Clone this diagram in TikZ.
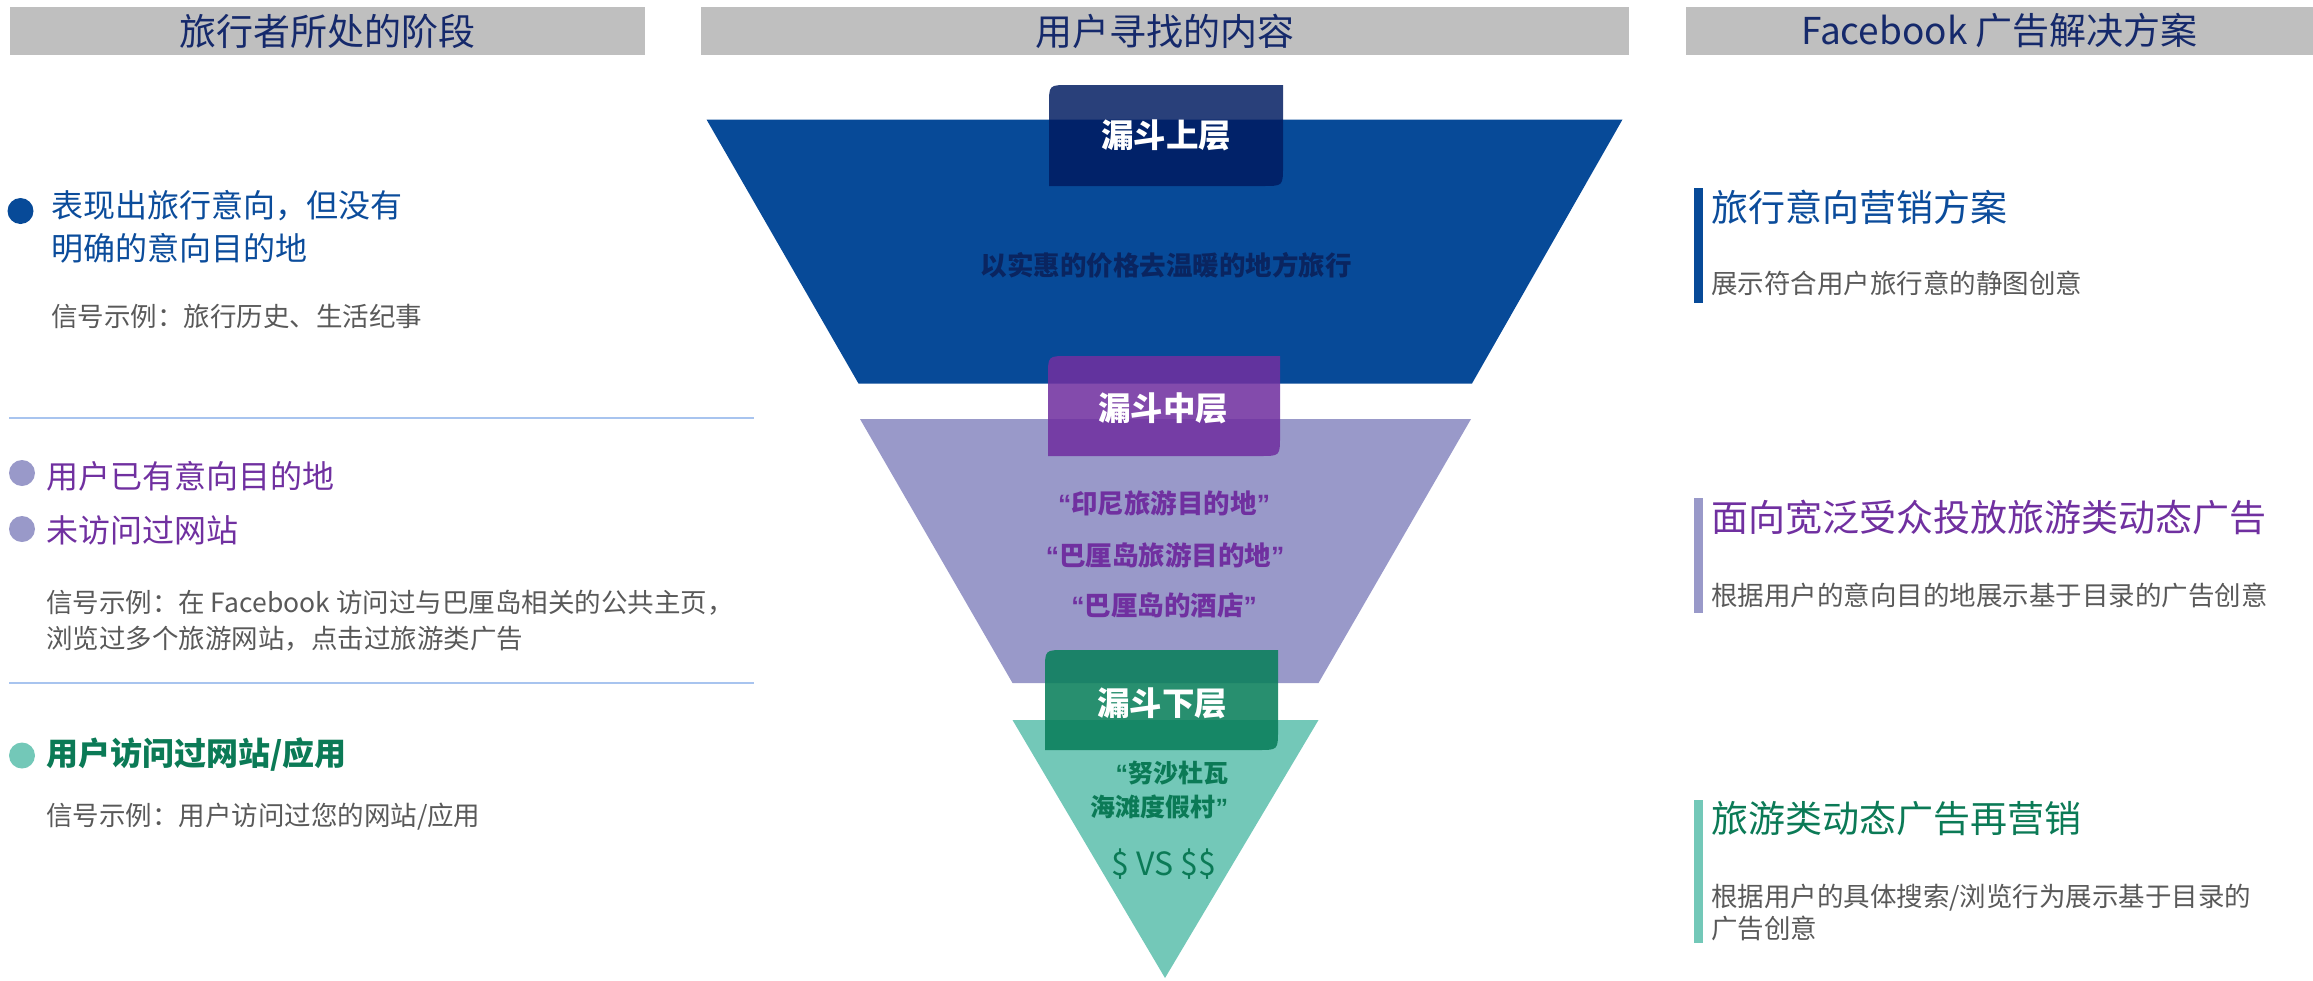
\documentclass[tikz,border=0pt]{standalone}
\usepackage{fontspec}
\setmainfont{Noto Sans CJK SC}
\newfontfamily\qfont{Liberation Sans}
\definecolor{hdrgray}{HTML}{BFBFBF}
\definecolor{hdrnavy}{HTML}{15296B}
\definecolor{fblue}{HTML}{074A98}
\definecolor{tblue}{HTML}{0B4C9B}
\definecolor{navybox}{HTML}{001B60}
\definecolor{navytext}{HTML}{0A2560}
\definecolor{lav}{HTML}{9999C9}
\definecolor{purp}{HTML}{7030A0}
\definecolor{tealf}{HTML}{73C8B8}
\definecolor{grn}{HTML}{0B7A56}
\definecolor{greenbox}{HTML}{0A7F5B}
\definecolor{gtext}{HTML}{595959}
\definecolor{sepc}{HTML}{A8C4EF}
\newcommand\myfs[2]{\fontsize{#1}{#2}\selectfont}
\newcommand\myoq{{\qfont\bfseries “}}
\newcommand\mycq{{\qfont\bfseries ”}}
\begin{document}
\begin{tikzpicture}[x=1pt,y=-1pt,
  every node/.style={inner sep=0pt, outer sep=0pt},
  hdr/.style={fill=hdrgray, text=hdrnavy, font=\myfs{37}{40}, minimum height=48pt, anchor=north west},
  flabel/.style={text=white, font=\myfs{32.5}{36}\bfseries},
  bul/.style={circle, minimum size=26pt},
  big/.style={anchor=west, align=left, font=\myfs{32}{43}},
  small/.style={anchor=west, align=left, text=gtext, font=\myfs{26.5}{36}},
  rtitle/.style={anchor=west, font=\myfs{37}{40}},
  sepline/.style={draw=sepc, line width=2pt}
]
\useasboundingbox (0,0) rectangle (2313,980);

% headers
\node[hdr, minimum width=635pt] (h1) at (10,7) {旅行者所处的阶段};
\node[hdr, minimum width=928pt] (h2) at (701,7) {用户寻找的内容};
\node[hdr, minimum width=627pt] (h3) at (1686,7) {Facebook 广告解决方案};

% funnel
\fill[fblue] (706.5,119.5) -- (1622.5,119.5) -- (1472,383.5) -- (858.5,383.5) -- cycle;
\fill[lav] (860,419) -- (1471,419) -- (1318.5,683) -- (1012.5,683) -- cycle;
\fill[tealf] (1012.5,720) -- (1318.5,720) -- (1165,978) -- cycle;

% label boxes
\fill[navybox, fill opacity=0.84] (1049,186) -- (1049,105) .. controls (1049,85) .. (1069,85) -- (1283,85) -- (1283,166) .. controls (1283,186) .. (1263,186) -- cycle;
\fill[purp, fill opacity=0.87] (1048,456) -- (1048,376) .. controls (1048,356) .. (1068,356) -- (1280,356) -- (1280,436) .. controls (1280,456) .. (1260,456) -- cycle;
\fill[greenbox, fill opacity=0.88] (1045,750) -- (1045,670) .. controls (1045,650) .. (1065,650) -- (1278,650) -- (1278,730) .. controls (1278,750) .. (1258,750) -- cycle;

\node[flabel] (l1) at (1166,135.5) {漏斗上层};
\node[flabel] (l2) at (1163,408) {漏斗中层};
\node[flabel] (l3) at (1162,703) {漏斗下层};

\node[text=navytext, font=\myfs{26.5}{30}\bfseries] (t1) at (1166,265.5) {以实惠的价格去温暖的地方旅行};
\node[text=purp, font=\myfs{26.5}{30}\bfseries] (q1) at (1164,503) {\myoq 印尼旅游目的地\mycq};
\node[text=purp, font=\myfs{26.5}{30}\bfseries] (q2) at (1165,555) {\myoq 巴厘岛旅游目的地\mycq};
\node[text=purp, font=\myfs{26.5}{30}\bfseries] (q3) at (1164,605) {\myoq 巴厘岛的酒店\mycq};
\node[text=grn, font=\myfs{25}{34}\bfseries, anchor=east, align=right] (g1) at (1228,790) {\myoq 努沙杜瓦\\海滩度假村\mycq};
\node[text=grn, font=\myfs{32}{36}] (g2) at (1164,864) {\$ VS \$\$};

% left column
\node[bul, fill=fblue] (b1) at (20.5,211) {};
\node[big, text=tblue] (s1) at (51,226.5) {表现出旅行意向，但没有\\明确的意向目的地};
\node[small] (e1) at (51,316) {信号示例：旅行历史、生活纪事};
\coordinate (sa1) at (9,418);
\coordinate (sa2) at (754,418);
\draw[sepline] (sa1) -- (sa2);

\node[bul, fill=lav] (b2) at (22,473) {};
\node[big, text=purp] (s2) at (46,476) {用户已有意向目的地};
\node[bul, fill=lav] (b3) at (22,529) {};
\node[big, text=purp] (s3) at (46,530) {未访问过网站};
\node[small] (e2) at (46,621) {信号示例：在 Facebook 访问过与巴厘岛相关的公共主页，\\浏览过多个旅游网站，点击过旅游类广告};
\coordinate (sb1) at (9,683);
\coordinate (sb2) at (754,683);
\draw[sepline] (sb1) -- (sb2);

\node[bul, fill=tealf] (b4) at (22,755.5) {};
\node[big, text=grn, font=\myfs{32}{43}\bfseries] (s4) at (46,755) {用户访问过网站/应用};
\node[small] (e3) at (46,817) {信号示例：用户访问过您的网站/应用};

% right column
\fill[fblue] (1694,188) rectangle (1702.5,303);
\node[rtitle, text=tblue] (r1) at (1711,207) {旅行意向营销方案};
\node[small] (d1) at (1711,283) {展示符合用户旅行意的静图创意};

\fill[lav] (1694,498) rectangle (1702.5,613);
\node[rtitle, text=purp] (r2) at (1711,518) {面向宽泛受众投放旅游类动态广告};
\node[small] (d2) at (1711,595) {根据用户的意向目的地展示基于目录的广告创意};

\fill[tealf] (1694,800) rectangle (1702.5,943);
\node[rtitle, text=grn] (r3) at (1711,819) {旅游类动态广告再营销};
\node[small, font=\myfs{26.5}{32}] (d3) at (1711,912) {根据用户的具体搜索/浏览行为展示基于目录的\\广告创意};
\end{tikzpicture}
\end{document}
